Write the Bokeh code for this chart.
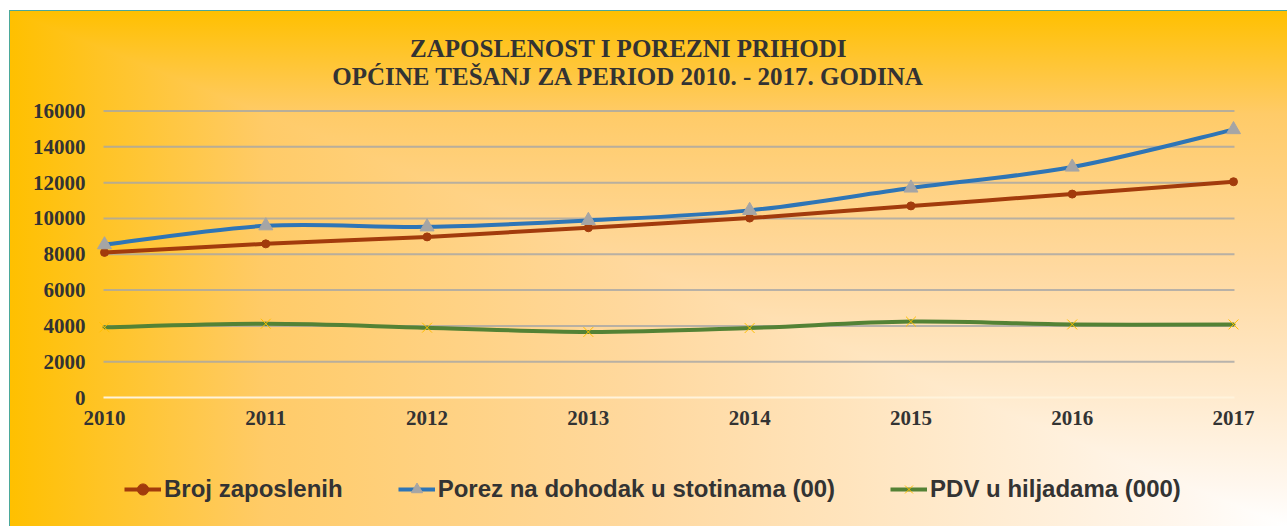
import numpy as np
from bokeh.plotting import figure
from bokeh.models import Range1d, FixedTicker, Label, Legend, LegendItem, ColumnDataSource
from bokeh.embed import file_html
from bokeh.resources import INLINE

# ---- data ----
years = [2010, 2011, 2012, 2013, 2014, 2015, 2016, 2017]
broj_zaposlenih = [8100, 8580, 8970, 9480, 10020, 10700, 11360, 12050]
porez_na_dohodak = [8530, 9590, 9530, 9890, 10450, 11700, 12870, 14960]
pdv = [3920, 4120, 3900, 3660, 3880, 4240, 4080, 4080]

series_names = ["Broj zaposlenih", "Porez na dohodak u stotinama (00)", "PDV u hiljadama (000)"]
y_ticks = [0, 2000, 4000, 6000, 8000, 10000, 12000, 14000, 16000]
title_lines = ["ZAPOSLENOST I POREZNI PRIHODI", "OPĆINE TEŠANJ ZA PERIOD 2010. - 2017. GODINA"]

W, H = 1287, 526
# the frame spans the whole canvas; these pixel anchors place the plotting area
ZERO_PX, TOP_PX = 397.0, 110.5          # y pixel of value 0 and of 16000
LEFT_PX, RIGHT_PX = 104.0, 1233.0       # x pixel of first and last year
per_px_y = (y_ticks[-1] - y_ticks[0]) / (ZERO_PX - TOP_PX)
y_start = y_ticks[0] - (H - ZERO_PX) * per_px_y
y_end = y_ticks[-1] + TOP_PX * per_px_y
per_px_x = (years[-1] - years[0]) / (RIGHT_PX - LEFT_PX)
x_start = years[0] - LEFT_PX * per_px_x
x_end = years[-1] + (W - RIGHT_PX) * per_px_x
x_left_edge = years[0] - 1 * per_px_x
x_right_edge = years[-1] + 1 * per_px_x

p = figure(width=W, height=H, output_backend="svg", toolbar_location=None,
           x_range=Range1d(x_start, x_end), y_range=Range1d(y_start, y_end),
           min_border_left=0, min_border_right=0, min_border_top=0, min_border_bottom=0)

p.border_fill_alpha = 0
p.background_fill_alpha = 0
p.outline_line_color = None

ramp = "#FFFFFF 0%, #FFF7EE 8%, #FFD9A0 50%, #FFCB68 80%, #FFC000 100%"
p.styles = {
    "background-color": "#FFFFFF",
    "background-image": (f"linear-gradient(to left, {ramp}), "
                         f"linear-gradient(to top, {ramp}), "
                         "linear-gradient(#4BA89A, #4BA89A), "
                         "linear-gradient(#4BA89A, #4BA89A)"),
    "background-position": "10px 11px, 10px 11px, 9px 10px, 9px 10px",
    "background-size": "1277px 515px, 1277px 515px, 1px 516px, 1278px 1px",
    "background-repeat": "no-repeat",
    "background-blend-mode": "darken",
}

# grid lines (horizontal, between first and last year)
p.xgrid.grid_line_color = None
p.ygrid.grid_line_color = None
p.segment(x0=[x_left_edge] * (len(y_ticks) - 1), x1=[x_right_edge] * (len(y_ticks) - 1),
          y0=y_ticks[1:], y1=y_ticks[1:], line_color="#A6A6A6", line_alpha=0.8, line_width=2)

# axes
p.xaxis.ticker = FixedTicker(ticks=years)
p.yaxis.ticker = FixedTicker(ticks=y_ticks)
for ax in (p.xaxis[0], p.yaxis[0]):
    ax.major_tick_in = 0
    ax.major_tick_out = 0
    ax.minor_tick_in = 0
    ax.minor_tick_out = 0
    ax.major_label_text_font = "Liberation Serif"
    ax.major_label_text_font_style = "bold"
    ax.major_label_text_font_size = "21px"
    ax.major_label_text_color = "#333333"
p.yaxis.axis_line_color = None
p.yaxis.fixed_location = x_left_edge
p.yaxis.major_label_standoff = 18
p.xaxis.fixed_location = 0
p.xaxis.bounds = (x_left_edge, x_right_edge)
p.xaxis.axis_line_color = "#FFF3DC"
p.xaxis.axis_line_width = 2
p.xaxis.major_label_standoff = 13


def smooth_segments(xs, ys):
    xs = np.asarray(xs, float)
    ys = np.asarray(ys, float)
    n = len(xs)
    x0, y0, x1, y1, cx0, cy0, cx1, cy1 = [], [], [], [], [], [], [], []
    for i in range(n - 1):
        im = max(i - 1, 0)
        ip2 = min(i + 2, n - 1)
        x0.append(xs[i]); y0.append(ys[i])
        x1.append(xs[i + 1]); y1.append(ys[i + 1])
        cx0.append(xs[i] + (xs[i + 1] - xs[im]) / 6)
        cy0.append(ys[i] + (ys[i + 1] - ys[im]) / 6)
        cx1.append(xs[i + 1] - (xs[ip2] - xs[i]) / 6)
        cy1.append(ys[i + 1] - (ys[ip2] - ys[i]) / 6)
    return ColumnDataSource(dict(x0=x0, y0=y0, x1=x1, y1=y1, cx0=cx0, cy0=cy0, cx1=cx1, cy1=cy1))


styles = [
    dict(line="#A23B0C", marker="circle", size=8, fill="#A23B0C", mline="#A23B0C", mw=1),
    dict(line="#2E75B6", marker="triangle", size=14, fill="#A5A5A5", mline="#A5A5A5", mw=1),
    dict(line="#548235", marker="x", size=14, fill=None, mline="#FFC000", mw=1),
]

items = []
for name, vals, st in zip(series_names, [broj_zaposlenih, porez_na_dohodak, pdv], styles):
    src = smooth_segments(years, vals)
    p.bezier(x0="x0", y0="y0", x1="x1", y1="y1", cx0="cx0", cy0="cy0", cx1="cx1", cy1="cy1",
             source=src, line_color=st["line"], line_width=4, line_cap="round")
    leg_line = p.line(years, vals, line_color=st["line"], line_width=4, visible=False)
    sc = p.scatter(years, vals, marker=st["marker"], size=st["size"],
                   fill_color=st["fill"], line_color=st["mline"], line_width=st["mw"])
    items.append(LegendItem(label=name, renderers=[leg_line, sc]))

legend = Legend(items=items, orientation="horizontal", location=(124, 23),
                padding=0, margin=0, spacing=55, label_standoff=3,
                glyph_width=37, glyph_height=28, label_height=28,
                label_text_font="Liberation Sans", label_text_font_style="bold",
                label_text_font_size="24px", label_text_color="#333333",
                border_line_color=None, background_fill_alpha=0)
p.add_layout(legend, "center")

for txt, yy in zip(title_lines, [H - 48, H - 76]):
    p.add_layout(Label(x=628, y=yy, x_units="screen", y_units="screen", text=txt,
                       text_align="center", text_baseline="middle",
                       text_font="Liberation Serif", text_font_style="bold",
                       text_font_size="25px", text_color="#333333"))

open("out.html", "w").write(file_html(p, INLINE))
